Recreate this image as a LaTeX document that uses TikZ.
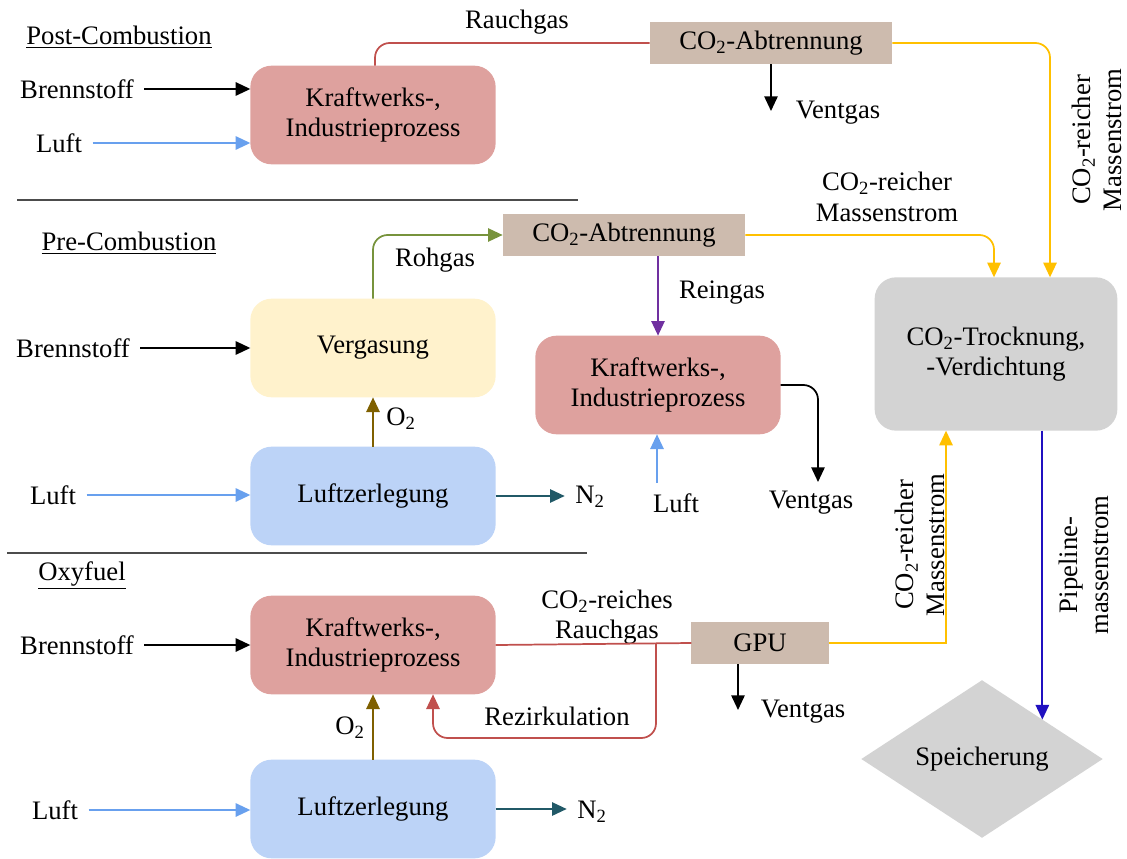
\documentclass[tikz,border=0pt]{standalone}
\usepackage{fontspec}
\setmainfont{Liberation Serif}
\usetikzlibrary{calc,positioning,shapes.geometric,arrows.meta}

\definecolor{kwrot}{RGB}{222,161,158}
\definecolor{vergelb}{RGB}{255,242,204}
\definecolor{lzblau}{RGB}{188,211,247}
\definecolor{abtbraun}{RGB}{205,187,174}
\definecolor{hellgrau}{RGB}{211,211,211}
\definecolor{luftblau}{RGB}{104,160,238}
\definecolor{rauchrot}{RGB}{192,80,77}
\definecolor{rohgruen}{RGB}{119,147,60}
\definecolor{reinlila}{RGB}{112,48,160}
\definecolor{obraun}{RGB}{127,96,0}
\definecolor{nteal}{RGB}{33,89,103}
\definecolor{coorange}{RGB}{255,192,0}
\definecolor{pipeblau}{RGB}{32,16,192}

\begin{document}
\begin{tikzpicture}[
  x=0.75pt, y=-0.75pt,
  font=\fontsize{20}{23}\selectfont,
  >={Triangle[length=11pt,width=10pt]},
  line width=1.3pt,
  prozess/.style={
    rectangle,
    rounded corners=16pt,
    fill=kwrot,
    minimum height=74pt, minimum width=184pt,
    align=center,
    outer sep=0pt
  },
  abtrennung/.style={
    rectangle,
    fill=abtbraun,
    minimum height=32pt, minimum width=182pt,
    outer sep=0pt
  },
  speicher/.style={
    diamond,
    fill=hellgrau,
    minimum height=115pt, minimum width=181pt,
    inner sep=0pt,
    outer sep=0pt
  },
  label/.style={
    align=center,
    inner sep=1pt,
    outer sep=7pt
  },
  titel/.style={
    inner sep=1pt
  },
  trenn/.style={
    draw=black!70,
    line width=1pt
  },
  brenn/.style={->,black},
  luft/.style={->,luftblau},
  sauer/.style={->,obraun},
  stick/.style={->,nteal},
  rauch/.style={rauchrot,rounded corners=11pt},
  co/.style={coorange,rounded corners=11pt}
  ]
%\draw[help lines] (0,0) grid[step=50] (1127,859);
\useasboundingbox (0,0) rectangle (1127,859);
% Post-Combustion
\node [titel] (post) at (119,37) {\underline{Post-Combustion}};
\node [label] (brenn post) at (77,89) {Brennstoff};
\node [label] (luft post) at (59,143) {Luft};
\node [prozess] (kw post) at (373,115) {Kraftwerks-,\\Industrieprozess};
\node [abtrennung] (abt post) at (771,43) {CO\textsubscript{2}-Abtrennung};
\node [label] (rauch post) at (517,22) {Rauchgas};
\node [label] (vent post) at (838,113) {Ventgas};
\coordinate (vent post end) at (771,111);
\draw[brenn] (brenn post.east) -- (brenn post -| kw post.west);
\draw[luft] (luft post.east) -- (luft post -| kw post.west);
\draw[rauch] ($(kw post.north)+(2,0)$) |- (abt post.west);
\draw[brenn] (abt post.south) -- (vent post end);
% Pre-Combustion
\node [titel] (pre) at (129,243) {\underline{Pre-Combustion}};
\node [label] (brenn pre) at (73,348) {Brennstoff};
\node [label] (luft pre) at (53,495) {Luft};
\node [prozess, fill=vergelb] (vergasung) at (373,348) {Vergasung};
\node [prozess, fill=lzblau] (lz pre) at (373,496) {Luftzerlegung};
\node [abtrennung] (abt pre) at (624,235) {CO\textsubscript{2}-Abtrennung};
\node [prozess] (kw pre) at (658,385) {Kraftwerks-,\\Industrieprozess};
\node [label] (rohgas) at (435,260) {Rohgas};
\node [label] (reingas) at (722,293) {Reingas};
\node [label] (o2 pre) at (401,419) {O\textsubscript{2}};
\node [label] (n2 pre) at (590,497) {N\textsubscript{2}};
\node [label] (luft kw) at (676,503) {Luft};
\node [label] (vent pre) at (811,503) {Ventgas};
\node [label] (co pre) at (887,197) {CO\textsubscript{2}-reicher\\Massenstrom};
\coordinate (vent pre end) at (818,482);
\coordinate (luft kw start) at (657,483);
\draw[brenn] (brenn pre.east) -- (brenn pre -| vergasung.west);
\draw[luft] (luft pre.east) -- (luft pre -| lz pre.west);
\draw[sauer] (lz pre.north) -- (vergasung.south);
\draw[stick] (lz pre.east) -- (lz pre.east -| n2 pre.west);
\draw[->,rohgruen,rounded corners=11pt] (vergasung.north) |- (abt pre.west);
\draw[->,reinlila] (abt pre.south -| kw pre.north) -- (kw pre.north);
\draw[luft] (luft kw start) -- (luft kw start |- kw pre.south);
\draw[->,black,rounded corners=11pt] (kw pre.east) -| (vent pre end);
% Oxyfuel
\node [titel] (oxy) at (82,575) {\underline{Oxyfuel}};
\node [label] (brenn oxy) at (77,645) {Brennstoff};
\node [label] (luft oxy) at (55,810) {Luft};
\node [prozess] (kw oxy) at (373,645) {Kraftwerks-,\\Industrieprozess};
\node [prozess, fill=lzblau] (lz oxy) at (373,809) {Luftzerlegung};
\node [abtrennung, minimum width=103pt, minimum height=31pt] (gpu) at (760,643) {GPU};
\node [label] (rauch oxy) at (607,617) {CO\textsubscript{2}-reiches\\Rauchgas};
\node [label] (rezirk) at (557,716) {Rezirkulation};
\node [label] (o2 oxy) at (350,728) {O\textsubscript{2}};
\node [label] (n2 oxy) at (592,812) {N\textsubscript{2}};
\node [label] (vent oxy) at (803,712) {Ventgas};
\coordinate (rezirk start) at (656,644);
\coordinate (rezirk unten) at (545,738);
\coordinate (vent oxy start) at (738,664);
\coordinate (vent oxy end) at (738,710);
\draw[brenn] (brenn oxy.east) -- (brenn oxy -| kw oxy.west);
\draw[luft] (luft oxy.east) -- (luft oxy -| lz oxy.west);
\draw[sauer] (lz oxy.north) -- (kw oxy.south);
\draw[stick] (lz oxy.east) -- (lz oxy.east -| n2 oxy.west);
\draw[rauch] (kw oxy.east) -- (gpu.west);
\draw[rauch,->] (rezirk start) |- (rezirk unten) -| ($(kw oxy.south)+(60,0)$);
\draw[brenn] (vent oxy start) -- (vent oxy end);
% Trocknung, Speicherung
\node [prozess, fill=hellgrau, minimum width=182pt, minimum height=115pt] (trocknung) at (996,354) {CO\textsubscript{2}-Trocknung,\\-Verdichtung};
\node [speicher] (speicherung) at (982,759) {Speicherung};
\node [label, rotate=90] (co post) at (1097,140) {CO\textsubscript{2}-reicher\\Massenstrom};
\node [label, rotate=90] (co oxy) at (920,545) {CO\textsubscript{2}-reicher\\Massenstrom};
\node [label, rotate=90] (pipe) at (1084,565) {Pipeline-\\massenstrom};
\draw[co,->] (abt post.east) -| ($(trocknung.north)+(54,0)$);
\draw[co,->] (abt pre.east) -| ($(trocknung.north)+(-2,0)$);
\draw[coorange,->] (gpu.east) -| ($(trocknung.south)+(-50,0)$);
\draw[->,pipeblau] (speicherung.north east |- trocknung.south) -- (speicherung.north east);
% Trennlinien
\draw[trenn] (17,200) -- (578,200);
\draw[trenn] (7,553) -- (587,553);
\end{tikzpicture}
\end{document}
